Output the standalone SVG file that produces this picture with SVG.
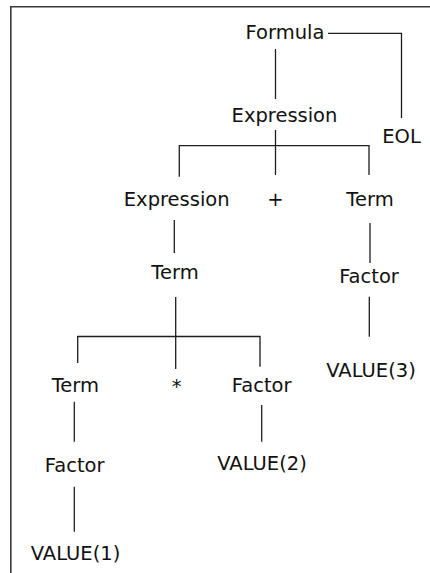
<svg xmlns="http://www.w3.org/2000/svg" width="430" height="573" viewBox="0 0 430 573">
  <style>
    .frame { fill: none; stroke: #3a3a3a; stroke-width: 1.6; }
    .edge { fill: none; stroke: #1e1e1e; stroke-width: 1.3; }
    text { font-family: "DejaVu Sans", "Liberation Sans", sans-serif; font-size: 19.5px; fill: #111; text-anchor: middle; }
  </style>
  <rect width="430" height="573" fill="#ffffff"/>
  <!-- open frame: top and left sides only -->
  <path class="frame" d="M10.8,573 V6.8 H430"/>

  <g id="connectors">
    <path class="edge" d="M328,33.3 H401.5 V118"/>
    <path class="edge" d="M275.5,49 V99"/>
    <path class="edge" d="M275.5,130 V175"/>
    <path class="edge" d="M179.3,176.7 V145.7 H369 V175"/>
    <path class="edge" d="M174.3,220 V253"/>
    <path class="edge" d="M370,223 V263"/>
    <path class="edge" d="M369.3,296.7 V336.7"/>
    <path class="edge" d="M175.7,297 V369"/>
    <path class="edge" d="M77.7,363 V336.5 H260 V366.7"/>
    <path class="edge" d="M74.3,401.7 V441.7"/>
    <path class="edge" d="M261.7,405 V441.7"/>
    <path class="edge" d="M74.3,486.7 V531.7"/>
  </g>

  <g id="formula"><text x="285" y="39">Formula</text></g>
  <g id="eol"><text x="401.5" y="143">EOL</text></g>
  <g id="expression-top"><text x="284.5" y="122">Expression</text></g>
  <g id="expression-left"><text x="176.7" y="205.5">Expression</text></g>
  <g id="plus"><text x="275.5" y="205.5">+</text></g>
  <g id="term-right"><text x="370" y="205.5">Term</text></g>
  <g id="term-mid"><text x="175" y="279">Term</text></g>
  <g id="factor-right"><text x="369" y="282.5">Factor</text></g>
  <g id="value3"><text x="371" y="376.5">VALUE(3)</text></g>
  <g id="term-left"><text x="75.3" y="391.5">Term</text></g>
  <g id="times"><text x="176.7" y="393">*</text></g>
  <g id="factor-mid"><text x="261.7" y="391.5">Factor</text></g>
  <g id="factor-left"><text x="74.7" y="471.5">Factor</text></g>
  <g id="value2"><text x="262" y="470">VALUE(2)</text></g>
  <g id="value1"><text x="75.5" y="560">VALUE(1)</text></g>
</svg>
